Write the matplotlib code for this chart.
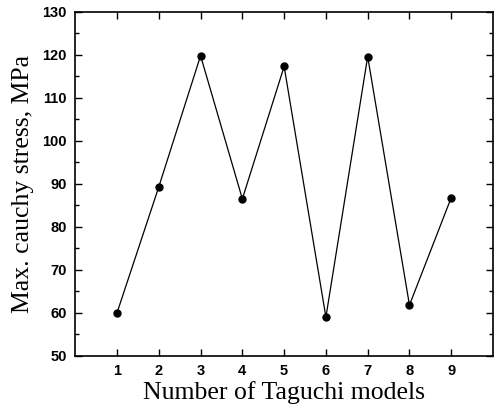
import matplotlib
matplotlib.use('Agg')
import matplotlib.pyplot as plt
from matplotlib.ticker import MultipleLocator

models = [1, 2, 3, 4, 5, 6, 7, 8, 9]
stress = [60.0, 89.3, 119.8, 86.5, 117.3, 59.0, 119.6, 61.8, 86.8]

fig = plt.figure(figsize=(4.95, 4.09), dpi=100)
ax = fig.add_axes([0.152, 0.130, 0.844, 0.841])

ax.plot(models, stress, color='black', lw=0.9, marker='o', ms=5)

ax.set_xlim(0, 10)
ax.set_ylim(50, 130)
ax.set_xticks(models)
ax.yaxis.set_major_locator(MultipleLocator(10))
ax.yaxis.set_minor_locator(MultipleLocator(5))
ax.tick_params(which='both', direction='in', top=True, right=True)
ax.tick_params(which='major', length=5, width=1, pad=6)
ax.tick_params(which='minor', length=3, width=1)
for lab in ax.get_xticklabels() + ax.get_yticklabels():
    lab.set_fontfamily('Liberation Sans')
    lab.set_fontweight('bold')
    lab.set_fontsize(10.5)
for s in ax.spines.values():
    s.set_linewidth(1.2)

ax.set_xlabel('Number of Taguchi models', family='Liberation Serif', fontsize=18.5, labelpad=2)
ax.set_ylabel('Max. cauchy stress, MPa', family='Liberation Serif', fontsize=18.5, labelpad=6)

fig.savefig('out.png', dpi=100)
